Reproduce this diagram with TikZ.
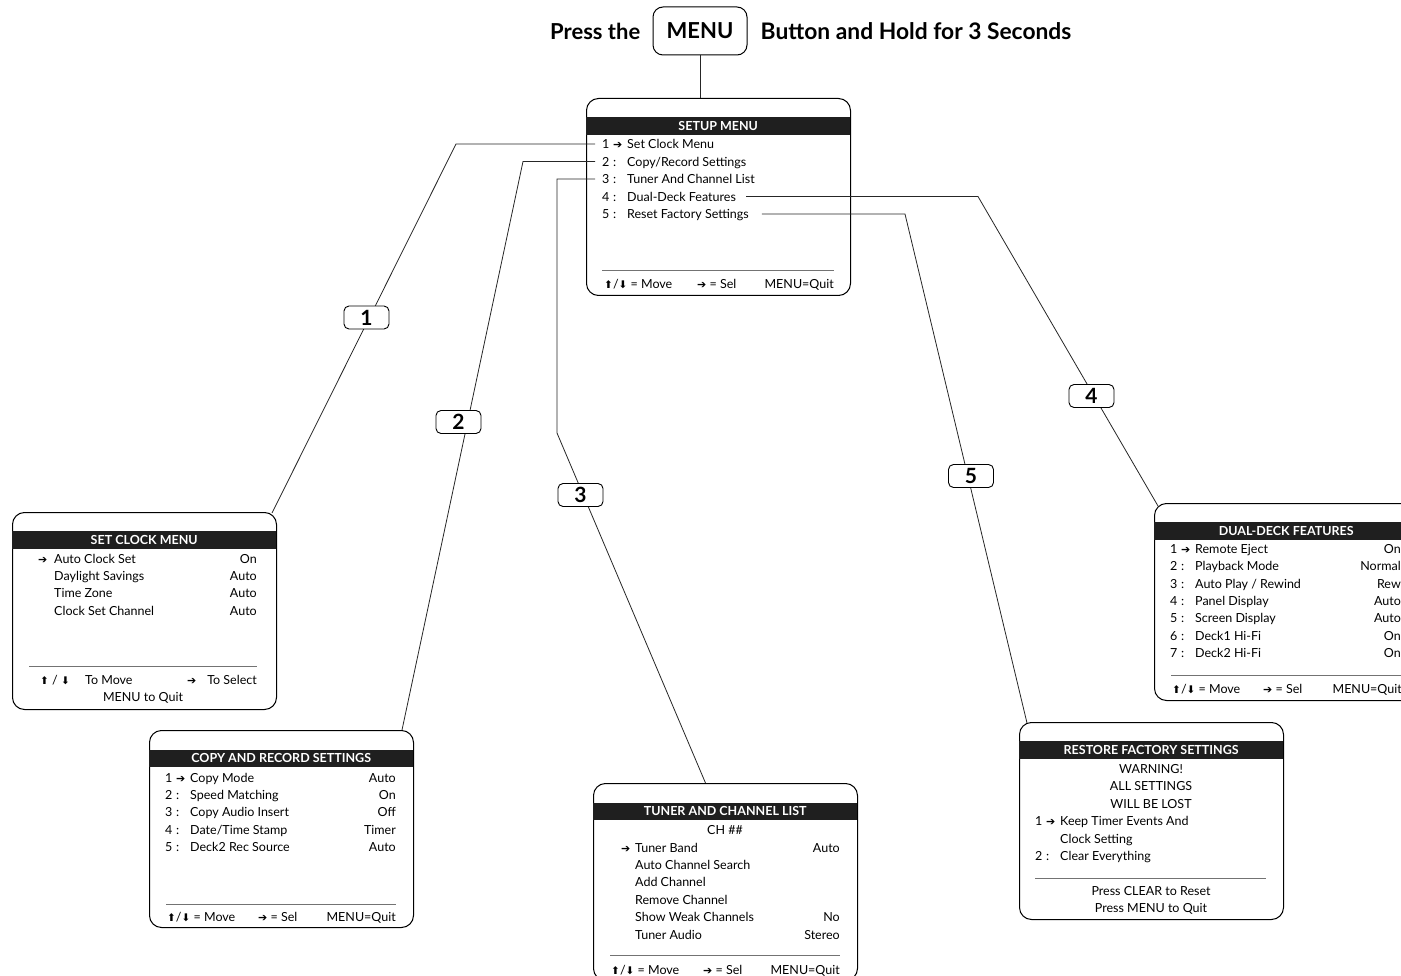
\documentclass[tikz,border=0pt]{standalone}
\usepackage{fontspec}
\setmainfont{Lato}
\newfontfamily\symf{DejaVu Sans}
\usepackage{tikz}
\usetikzlibrary{positioning,calc}
\newcommand\rowfont{\fontsize{12.5}{14}\selectfont}
\newcommand\hdrfont{\fontsize{12.5}{14}\selectfont\bfseries}
\newcommand\selarr{{\symf\fontsize{11}{11}\selectfont ➔}}
\newcommand\uparr{{\symf\fontsize{10.5}{10}\selectfont ⬆}}
\newcommand\dnarr{{\symf\fontsize{10.5}{10}\selectfont ⬇}}
\newcommand\nr[2]{\makebox[11pt][l]{#1}\makebox[14pt][l]{#2}}
\newcommand\ttlfont{\fontsize{22}{22}\selectfont\bfseries}

\begin{document}
\begin{tikzpicture}[x=1pt, y=-1pt,
  menubox/.style={draw, line width=1pt, rounded corners=12pt, minimum width=264pt, minimum height=197pt, anchor=north west, inner sep=0pt},
  hdr/.style={fill=black!88, text=white, font=\hdrfont, minimum width=264pt, minimum height=17.5pt, anchor=north west, inner sep=0pt},
  itm/.style={font=\rowfont, anchor=west, inner sep=0pt, text height=8.5pt, text depth=3.5pt, yshift=-2.5pt},
  val/.style={itm, anchor=east},
  mid/.style={itm, anchor=center},
  tag/.style={draw, fill=white, line width=0.9pt, rounded corners=5pt, minimum width=45pt, minimum height=23pt, inner sep=0pt, font=\fontsize{21}{21}\selectfont\bfseries},
  link/.style={line width=0.8pt, black!85},
  sep/.style={line width=0.6pt, black!55}]
  \useasboundingbox (0,0) rectangle (1401,976);
  \clip (0,0) rectangle (1401,976);
  % title with MENU button
  \node[draw, line width=1pt, rounded corners=10pt, minimum width=94pt, minimum height=48pt, font=\ttlfont] (menu) at (700,31) {MENU};
  \node[font=\ttlfont, left=12pt of menu, inner sep=0pt] (press) {Press the};
  \node[font=\fontsize{22.8}{23}\selectfont\bfseries, right=13pt of menu, inner sep=0pt] (hold) {Button and Hold for 3 Seconds};

  % setup menu
  \node[menubox] (setup) at (586,98) {};
  \node[hdr] (setuph) at (586,117) {SETUP MENU};
  \node[itm] (s1) at (602,144) {\nr{1}{\selarr}Set Clock Menu};
  \node[itm] (s2) at (602,161.5) {\nr{2}{:}Copy/Record Settings};
  \node[itm] (s3) at (602,179) {\nr{3}{:}Tuner And Channel List};
  \node[itm] (s4) at (602,196.5) {\nr{4}{:}Dual-Deck Features};
  \node[itm] (s5) at (602,214) {\nr{5}{:}Reset Factory Settings};
  \draw[sep] (602,270) -- (834,270);
  \node[itm] (sf1) at (604,284) {\uparr/\dnarr\ = Move};
  \node[itm] (sf2) at (697,284) {\selarr\ = Sel};
  \node[val] (sf3) at (834,284) {MENU=Quit};

  % set clock menu
  \node[menubox] (clock) at (12,512) {};
  \node[hdr] (clockh) at (12,531) {SET CLOCK MENU};
  \node[itm] (c1) at (38,558) {\makebox[16pt][l]{\selarr}Auto Clock Set};
  \node[itm] (c2) at (54,575) {Daylight Savings};
  \node[itm] (c3) at (54,592.5) {Time Zone};
  \node[itm] (c4) at (54,610) {Clock Set Channel};
  \node[val] (c1v) at (257,558) {On};
  \node[val] (c2v) at (257,575) {Auto};
  \node[val] (c3v) at (257,592.5) {Auto};
  \node[val] (c4v) at (257,610) {Auto};
  \draw[sep] (29,666) -- (257,666);
  \node[itm] (cf1) at (40,679) {\uparr\ / \dnarr};
  \node[itm] (cf2) at (85,679) {To Move};
  \node[itm] (cf3) at (187,679) {\selarr};
  \node[val] (cf4) at (257,679) {To Select};
  \node[mid] (cf5) at (143,696) {MENU to Quit};

  % copy and record settings
  \node[menubox] (copy) at (149,730) {};
  \node[hdr] (copyh) at (149,749.5) {COPY AND RECORD SETTINGS};
  \node[itm] (r1) at (165,777) {\nr{1}{\selarr}Copy Mode};
  \node[itm] (r2) at (165,794) {\nr{2}{:}Speed Matching};
  \node[itm] (r3) at (165,811.5) {\nr{3}{:}Copy Audio Insert};
  \node[itm] (r4) at (165,829) {\nr{4}{:}Date/Time Stamp};
  \node[itm] (r5) at (165,846) {\nr{5}{:}Deck2 Rec Source};
  \node[val] (r1v) at (396,777) {Auto};
  \node[val] (r2v) at (396,794) {On};
  \node[val] (r3v) at (396,811.5) {Off};
  \node[val] (r4v) at (396,829) {Timer};
  \node[val] (r5v) at (396,846) {Auto};
  \draw[sep] (166,904) -- (396,904);
  \node[itm] (rf1) at (167,916) {\uparr/\dnarr\ = Move};
  \node[itm] (rf2) at (258,916) {\selarr\ = Sel};
  \node[val] (rf3) at (396,916) {MENU=Quit};

  % tuner and channel list
  \node[menubox] (tuner) at (593,783) {};
  \node[hdr] (tunerh) at (593,802.5) {TUNER AND CHANNEL LIST};
  \node[mid] (ch) at (725,829) {CH \#\#};
  \node[itm] (u1) at (621,847) {\makebox[14pt][l]{\selarr}Tuner Band};
  \node[itm] (u2) at (635,864) {Auto Channel Search};
  \node[itm] (u3) at (635,881.5) {Add Channel};
  \node[itm] (u4) at (635,899) {Remove Channel};
  \node[itm] (u5) at (635,916.5) {Show Weak Channels};
  \node[itm] (u6) at (635,934) {Tuner Audio};
  \node[val] (u1v) at (840,847) {Auto};
  \node[val] (u5v) at (840,916.5) {No};
  \node[val] (u6v) at (840,934) {Stereo};
  \draw[sep] (610,955) -- (840,955);
  \node[itm] (uf1) at (611,969) {\uparr/\dnarr\ = Move};
  \node[itm] (uf2) at (703,969) {\selarr\ = Sel};
  \node[val] (uf3) at (840,969) {MENU=Quit};

  % dual-deck features
  \node[menubox] (dual) at (1154,503) {};
  \node[hdr] (dualh) at (1154,522) {DUAL-DECK FEATURES};
  \node[itm] (d1) at (1170,548) {\nr{1}{\selarr}Remote Eject};
  \node[itm] (d2) at (1170,565.5) {\nr{2}{:}Playback Mode};
  \node[itm] (d3) at (1170,583) {\nr{3}{:}Auto Play / Rewind};
  \node[itm] (d4) at (1170,600) {\nr{4}{:}Panel Display};
  \node[itm] (d5) at (1170,617.5) {\nr{5}{:}Screen Display};
  \node[itm] (d6) at (1170,635) {\nr{6}{:}Deck1 Hi-Fi};
  \node[itm] (d7) at (1170,652) {\nr{7}{:}Deck2 Hi-Fi};
  \node[val] (d1v) at (1401,548) {On};
  \node[val] (d2v) at (1401,565.5) {Normal};
  \node[val] (d3v) at (1401,583) {Rew};
  \node[val] (d4v) at (1401,600) {Auto};
  \node[val] (d5v) at (1401,617.5) {Auto};
  \node[val] (d6v) at (1401,635) {On};
  \node[val] (d7v) at (1401,652) {On};
  \draw[sep] (1171,675) -- (1418,675);
  \node[itm] (df1) at (1172,688) {\uparr/\dnarr\ = Move};
  \node[itm] (df2) at (1263,688) {\selarr\ = Sel};
  \node[val] (df3) at (1402,688) {MENU=Quit};

  % restore factory settings
  \node[menubox] (reset) at (1019,722) {};
  \node[hdr] (reseth) at (1019,741) {RESTORE FACTORY SETTINGS};
  \node[mid] (w1) at (1151,768) {WARNING!};
  \node[mid] (w2) at (1151,785) {ALL SETTINGS};
  \node[mid] (w3) at (1151,803) {WILL BE LOST};
  \node[itm] (e1) at (1035,820) {\nr{1}{\selarr}Keep Timer Events And};
  \node[itm] (e1b) at (1060,838) {Clock Setting};
  \node[itm] (e2) at (1035,855) {\nr{2}{:}Clear Everything};
  \draw[sep] (1035,878) -- (1266,878);
  \node[mid] (ef1) at (1151,890) {Press CLEAR to Reset};
  \node[mid] (ef2) at (1151,907) {Press MENU to Quit};

  % bends of the connectors
  \coordinate (b1) at (456,144);
  \coordinate (b2) at (523,161.5);
  \coordinate (b3) at (557,179);
  \coordinate (b3d) at (557,433);
  \coordinate (b4) at (978,196.5);
  \coordinate (b5) at (905,214);

  % connectors
  \draw[link] (menu.south) -- (menu.south |- setup.north);
  \draw[link] ([xshift=-7pt,yshift=2.5pt]s1.west) -- (b1) -- ([xshift=-5pt,yshift=-1pt]clock.north east);
  \draw[link] ([xshift=-7pt,yshift=2.5pt]s2.west) -- (b2) -- ([xshift=-12pt]copy.north east);
  \draw[link] ([xshift=-7pt,yshift=2.5pt]s3.west) -- (b3) -- (b3d) -- ([xshift=-20pt]tuner.north);
  \draw[link] ([xshift=10pt,yshift=2.5pt]s4.east) -- (b4) -- ([xshift=4pt,yshift=-3pt]dual.north west);
  \draw[link] ([xshift=13pt,yshift=2.5pt]s5.east) -- (b5) -- ([xshift=8pt,yshift=-1pt]reset.north west);

  % number tags
  \node[tag] (t1) at (366.5,317.5) {1};
  \node[tag] (t2) at (458.5,422) {2};
  \node[tag] (t3) at (580.5,495) {3};
  \node[tag] (t4) at (1091.5,396) {4};
  \node[tag] (t5) at (971,476) {5};
\end{tikzpicture}
\end{document}
